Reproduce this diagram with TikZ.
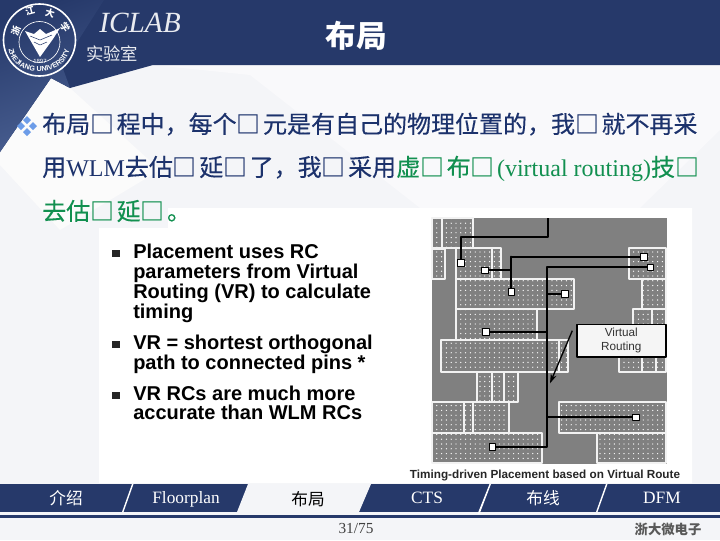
\documentclass[tikz,border=0pt]{standalone}
\usepackage{fontspec}
\setmainfont{Liberation Serif}
\setsansfont{Liberation Sans}
\newfontfamily\cjk[FakeBold=0.3]{Noto Sans CJK SC}
\newfontfamily\cjkplain{Noto Sans CJK SC}
\usetikzlibrary{arrows.meta,calc,positioning,patterns.meta,decorations.text}
\definecolor{navy}{RGB}{38,57,106}
\definecolor{navytxt}{RGB}{28,50,108}
\definecolor{lift}{RGB}{74,96,146}
\definecolor{pagebg}{RGB}{244,245,248}
\definecolor{facet}{RGB}{249,249,251}
\definecolor{mkgreen}{RGB}{18,144,80}
\definecolor{chipgray}{RGB}{128,128,128}
\definecolor{tip}{RGB}{108,156,232}
\newcommand{\ubox}{{\cjkplain\bfseries □}\kern1.8pt}
\tikzset{
  linetxt/.style={anchor=base west,inner sep=0pt,font=\fontsize{18}{18}\selectfont},
  slidetxt/.style={anchor=base west,inner sep=0pt,font=\sffamily\bfseries\fontsize{15}{15}\selectfont},
  tabtxt/.style={anchor=base,inner sep=0pt,text=white,font=\fontsize{13}{13}\selectfont},
  cellblock/.style={draw=white!90!gray,line width=0.9pt,pattern={Dots[radius=0.5pt,distance=3.6pt]},pattern color=white},
  wire/.style={draw=black,line width=1.5pt},
  pin/.style={draw=black,fill=white,line width=0.4pt,minimum size=5pt,inner sep=0pt},
  crest/.style={inner sep=0pt,text=white,font=\cjkplain\bfseries\fontsize{7}{7}\selectfont},
}
\begin{document}
\begin{tikzpicture}[x=0.75pt,y=-0.75pt,line join=round]
  \useasboundingbox (0,0) rectangle (720,540);
  \fill[pagebg] (0,0) rectangle (720,540);
  \fill[facet] (153,65)--(720,65)--(720,130)--(640,208)--(420,208)--(250,75)--cycle;
  \fill[white!97!gray] (0,152)--(51,78)--(70,88)--(160,170)--(60,230)--(0,165)--cycle;
  % header
  \fill[navy] (0,0)--(720,0)--(720,65)--(153,65)--(70,88)--(51,78)--(0,152)--cycle;
  \shade[top color=navy,bottom color=lift,shading angle=20] (0,0)--(104,0)--(62,66)--(70,88)--(51,78)--(0,152)--cycle;
  % crest
  \draw[white,line width=1.2pt] (39.5,40) circle (36);
  \draw[white,line width=0.5pt] (39.5,42) circle (20.5);
  \fill[white] (25,31)--(34,34)--(40,29)--(46,34)--(60,28)--(53,39)--(40,57)--cycle;
  \draw[navy,line width=0.4pt] (30,36)--(40,40)--(52,35) (34,42)--(40,45)--(47,42);
  \node[crest,rotate=70] (crestzhe) at (16,31) {浙};
  \node[crest,rotate=15] (crestjiang) at (30,11) {江};
  \node[crest,rotate=-15] (crestda) at (50,13) {大};
  \node[crest,rotate=-55] (crestxue) at (65,27) {学};
  \node[crest,font=\sffamily\fontsize{4.5}{5}\selectfont] (crestyear) at (40,61) {1897};
  \path[decorate,decoration={text along path,text align=center,
    text={|\sffamily\bfseries\fontsize{5.4}{6}\selectfont\color{white}|ZHEJIANG UNIVERSITY}}]
    (9,51) .. controls (14,78) and (64,78) .. (69,51);
  \node[anchor=base west,inner sep=0pt,text=white!90!navy,font=\itshape\fontsize{22}{22}\selectfont] (labname) at (99,32) {ICLAB};
  \node[anchor=base west,inner sep=0pt,text=white!90!navy,font=\cjkplain\fontsize{13}{13}\selectfont] (labcn) at (86,60) {实验室};
  \node[inner sep=0pt,text=white,font=\cjkplain\bfseries\fontsize{23}{23}\selectfont] (title) at (356,36) {布局};
  % bullet
  \foreach \bx/\by in {27/120,21/126,33/126,27/132} \fill[tip] (\bx-4,\by)--(\bx,\by-4)--(\bx+4,\by)--(\bx,\by+4)--cycle;
  % picture area
  \fill[white] (168,208)--(692,208)--(692,483)--(99,483)--(99,228)--(168,228)--cycle;
  \node[linetxt,text=navytxt,font=\cjk\fontsize{18}{18}\selectfont] (lineone) at (42,133) {布局\ubox 程中，每个\ubox 元是有自己的物理位置的，我\ubox 就不再采};
  \node[linetxt,text=navytxt] (linetwo) at (42,176) {{\cjk 用}WLM{\cjk 去估\ubox 延\ubox 了，我\ubox 采用}};
  \node[linetxt,text=mkgreen] (linegreen) at (396,176) {{\cjk 虚\ubox 布\ubox}(virtual routing){\cjk 技\ubox}};
  \node[linetxt,text=mkgreen,font=\cjk\fontsize{18}{18}\selectfont] (linethree) at (42,220) {去估\ubox 延\ubox 。};
  % left column
  \foreach \by in {253,344,395} \fill[black!85] (112,\by-3.5) rectangle (120,\by+3.5);
  \node[slidetxt] (ruleone) at (133,258) {Placement uses RC};
  \node[slidetxt] (ruletwo) at (133,278) {parameters from Virtual};
  \node[slidetxt] (rulethree) at (133,298) {Routing (VR) to calculate};
  \node[slidetxt] (rulefour) at (133,318) {timing};
  \node[slidetxt] (vrone) at (133,349) {VR = shortest orthogonal};
  \node[slidetxt] (vrtwo) at (133,369) {path to connected pins *};
  \node[slidetxt] (rcone) at (133,400) {VR RCs are much more};
  \node[slidetxt] (rctwo) at (133,419) {accurate than WLM RCs};
  % chip
  \fill[chipgray] (432,218) rectangle (667,464);
  \foreach \xa/\ya/\xb/\yb in {432/218/442/248,442/218/473/248,432/249/445/279,456/248/492/279,492/248/501/279,
    456/279/574/309,456/309/537/340,629/248/666/279,642/279/666/309,633/309/652/340,652/309/666/340,
    619/340/642/372,642/340/656/372,656/340/666/372,441/340/559/372,559/340/568/372,
    477/372/492/402,492/372/504/402,504/372/518/402,432/402/464/433,464/402/473/433,473/402/509/433,
    432/433/542/463,559/402/666/433,597/433/666/463}
    \draw[cellblock] (\xa,\ya) rectangle (\xb,\yb);
  \node[pin] (pina) at (460.7,262.5) {};
  \node[pin] (pinb) at (484.7,270.3) {};
  \node[pin] (pinc) at (511.3,291.7) {};
  \node[pin] (pind) at (643.7,256.7) {};
  \node[pin] (pine) at (650.3,267.3) {};
  \node[pin] (pinf) at (565,294) {};
  \node[pin] (ping) at (485.7,331.7) {};
  \node[pin] (pinh) at (635.7,417.3) {};
  \node[pin] (pini) at (492.3,446.7) {};
  \coordinate (topin) at (548.3,218);
  \coordinate (trunk) at (547,267.3);
  \coordinate (bendb) at (511.3,256.7);
  \draw[wire] (topin)--(548.3,237.3)-|(pina);
  \draw[wire] (pinb)-|(bendb)--(pinc);
  \draw[wire] (bendb)--(pind);
  \draw[wire] (pine)--(trunk)|-(pini);
  \draw[wire] (pinf)-|(trunk);
  \draw[wire] (ping)-|(trunk);
  \draw[wire] (pinh)-|(trunk);
  \node[draw=black,fill=white!92!gray,line width=1.3pt,minimum width=66.5pt,minimum height=24.5pt,inner sep=0pt,align=center,
    font=\sffamily\fontsize{8.8}{10.6}\selectfont,text=black!80] (vrbox) at (621.3,340.7) {Virtual\\Routing};
  \coordinate (vrfoot) at (572.3,330.7);
  \coordinate (vrtip) at (550,383.3);
  \draw[-{Stealth[length=7pt,width=4.5pt]},line width=1pt] (vrfoot)--(vrtip);
  \node[anchor=base,inner sep=0pt,font=\sffamily\bfseries\fontsize{8.8}{8.8}\selectfont,text=black!85] (chipcap) at (545,478) {Timing-driven Placement based on Virtual Route};
  % tabs
  \fill[navy] (0,484) rectangle (720,512);
  \fill[navy] (0,514.5) rectangle (720,518);
  \fill[pagebg] (237,512)--(248,484)--(371,484)--(359,512)--cycle;
  \fill[white] (122,512)--(132,484)--(133.5,484)--(123.5,512)--cycle;
  \fill[white] (477.5,514)--(489.5,484)--(491,484)--(479.5,514)--cycle;
  \fill[white] (596,512)--(606,484)--(607.5,484)--(597.5,512)--cycle;
  \node[tabtxt,font=\cjkplain\fontsize{12.5}{13}\selectfont] (tabintro) at (66,504) {介绍};
  \node[tabtxt] (tabfloor) at (186,503) {Floorplan};
  \node[tabtxt,text=black,font=\cjkplain\fontsize{12.5}{13}\selectfont] (tabplace) at (308,505) {布局};
  \node[tabtxt] (tabcts) at (427,503) {CTS};
  \node[tabtxt,font=\cjkplain\fontsize{12.5}{13}\selectfont] (tabroute) at (543,504) {布线};
  \node[tabtxt] (tabdfm) at (662,503) {DFM};
  \node[anchor=base,inner sep=0pt,font=\fontsize{11.5}{11.5}\selectfont,text=black!75] (pageno) at (356,533) {31/75};
  \node[anchor=base,inner sep=0pt,font=\cjkplain\bfseries\fontsize{10}{10}\selectfont,text=black!65] (footmark) at (668,534) {浙大微电子};
\end{tikzpicture}
\end{document}
